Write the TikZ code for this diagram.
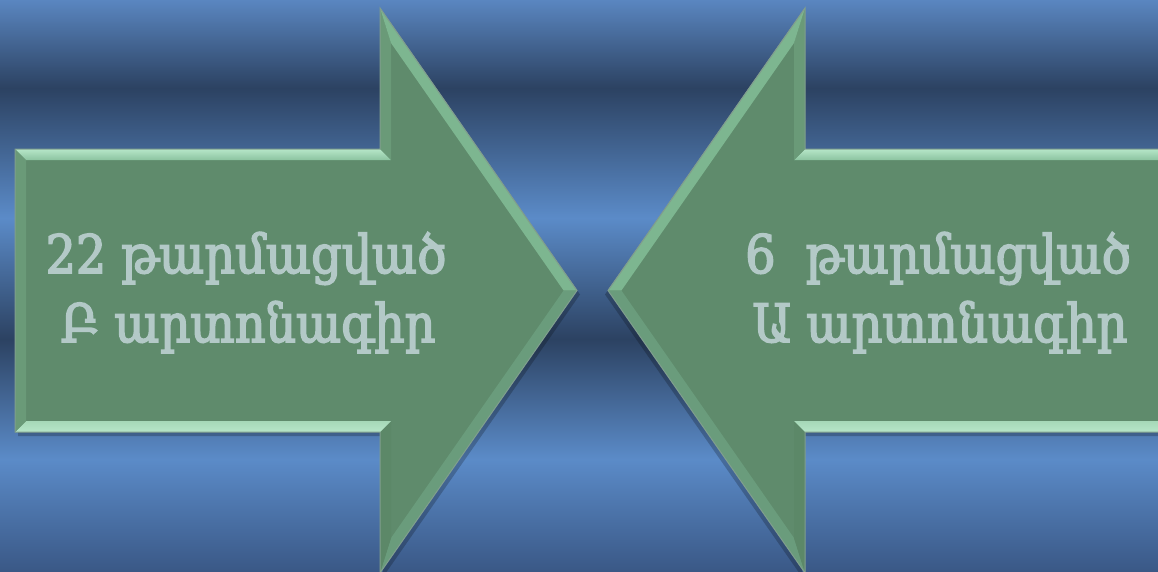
\documentclass[tikz,border=0pt]{standalone}
\usepackage{fontspec}
\setmainfont{DejaVu Serif}
\newfontfamily\armfont[FakeStretch=0.9,FakeBold=3]{DejaVu Serif}
\definecolor{bgtop}{HTML}{5A86C0}
\definecolor{bglight}{HTML}{5B8BC8}
\definecolor{bgdark}{HTML}{2C4262}
\definecolor{bgbot}{HTML}{3A5886}
\definecolor{gmain}{HTML}{5F8B6C}
\definecolor{gtopA}{HTML}{B6E6C8}
\definecolor{gtopB}{HTML}{8CC4A0}
\definecolor{gbot}{HTML}{A6D8B8}
\definecolor{gside}{HTML}{6A9A78}
\definecolor{gslantup}{HTML}{7DB690}
\definecolor{gslantlo}{HTML}{6A9C7C}
\definecolor{gheadlo}{HTML}{5C8868}
\definecolor{gline}{HTML}{809E8E}
\definecolor{txtcol}{HTML}{B3C9C7}
\newcommand{\drawbevelarrow}{%
  \fill[black,opacity=0.22] (18,153) -- (383,153) -- (383,12) -- (580,294.5) -- (383,577) -- (383,436) -- (18,436) -- cycle;
  \fill[gmain] (15,149) -- (380,149) -- (380,8) -- (577,290.5) -- (380,573) -- (380,432) -- (15,432) -- cycle;
  \shade[top color=gtopA,bottom color=gtopB] (15,149) -- (380,149) -- (391,160) -- (26,160) -- cycle;
  \fill[gside] (380,149) -- (380,8) -- (391,43) -- (391,160) -- cycle;
  \fill[gslantup] (380,8) -- (577,290.5) -- (563.6,290.5) -- (391,43) -- cycle;
  \fill[gslantlo] (577,290.5) -- (380,573) -- (391,538) -- (563.6,290.5) -- cycle;
  \fill[gheadlo] (380,573) -- (380,432) -- (391,421) -- (391,538) -- cycle;
  \shade[top color=gbot,bottom color=gtopA] (380,432) -- (15,432) -- (26,421) -- (391,421) -- cycle;
  \fill[gside] (15,432) -- (15,149) -- (26,160) -- (26,421) -- cycle;
  \draw[gline,line width=0.6pt] (380,8) -- (577,290.5);
  \draw[gline,line width=1pt,line join=miter] (15,149) -- (380,149) -- (380,8) -- (577,290.5) -- (380,573) -- (380,432) -- (15,432) -- cycle;
}
\tikzset{
  arrowtext/.style={text=txtcol, font=\armfont\fontsize{53}{62}\selectfont, anchor=base, inner sep=0pt}
}
\begin{document}
\begin{tikzpicture}[x=1pt,y=-1pt]
\useasboundingbox (0,0) rectangle (1158,571);
\clip (0,0) rectangle (1158,571);
% background bands
\shade[top color=bgtop,bottom color=bgdark] (0,0) rectangle (1158,88);
\shade[top color=bgdark,bottom color=bglight] (0,88) rectangle (1158,218);
\shade[top color=bglight,bottom color=bgdark] (0,218) rectangle (1158,339);
\shade[top color=bgdark,bottom color=bglight] (0,339) rectangle (1158,459);
\shade[top color=bglight,bottom color=bgbot] (0,459) rectangle (1158,571.5);
% left arrow
\begin{scope}
\drawbevelarrow
\end{scope}
% right arrow (mirrored)
\begin{scope}[xshift=1185pt,xscale=-1]
\drawbevelarrow
\end{scope}
% texts
\node[arrowtext] (l1) at (246,273) {22 թարմացված};
\node[arrowtext] (l2) at (248,342) {Բ արտոնագիր};
\node[arrowtext] (r1) at (938,273) {6~~թարմացված};
\node[arrowtext] (r2) at (940,342) {Ա արտոնագիր};
\end{tikzpicture}
\end{document}
